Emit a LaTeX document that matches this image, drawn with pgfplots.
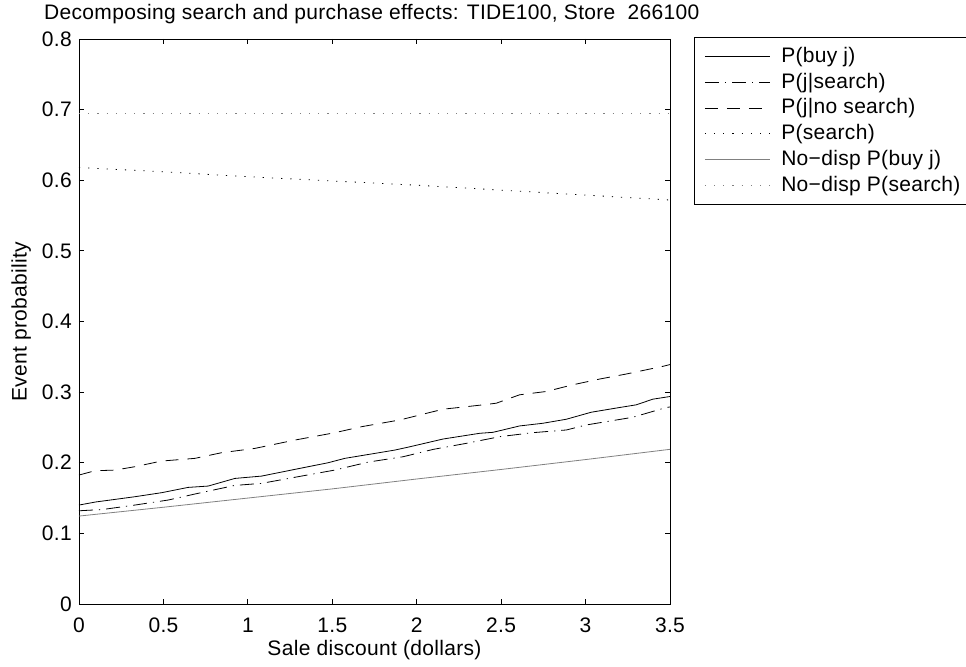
\documentclass[border=0pt]{standalone}
\usepackage{fontspec}
\setmainfont{Liberation Sans}[LetterSpace=1.5]
\usepackage{pgfplots}
\pgfplotsset{compat=1.18}
\definecolor{lgray}{rgb}{0.5,0.5,0.5}
\begin{document}
\fontsize{21bp}{24bp}\selectfont
\begin{tikzpicture}
\begin{axis}[
  scale only axis, width=591bp, height=565bp,
  xmin=0, xmax=3.5, ymin=0, ymax=0.8,
  xtick={0,0.5,...,3.5}, ytick={0,0.1,...,0.8},
  xticklabels={0,0.5,1,1.5,2,2.5,3,3.5},
  yticklabels={0,0.1,0.2,0.3,0.4,0.5,0.6,0.7,0.8},
  tick align=inside, xtick pos=both, ytick pos=both,
  major tick length=5bp,
  axis line style={line width=0.9bp},
  every tick/.style={black, line width=0.8bp},
  /pgf/number format/assume math mode=true,
  xticklabel style={anchor=base, inner sep=0pt, yshift=-28bp},
  yticklabel style={anchor=east, inner sep=0pt, xshift=-7bp},
  title={Decomposing search and purchase effects: TIDE100, Store\ \ 266100},
  every axis title/.style={at={(rel axis cs:-0.0592,1.0345)}, anchor=base west, inner sep=0pt},
  xlabel={Sale discount (dollars)},
  xlabel style={at={(rel axis cs:0.5,-0.0903)}, anchor=base, inner sep=0pt},
  ylabel={Event probability},
  ylabel style={at={(rel axis cs:-0.098,0.5)}, anchor=center, rotate=0, inner sep=0pt},
  legend cell align=left,
  legend style={at={(rel axis cs:1,1)}, anchor=north west, xshift=24bp, yshift=2bp,
    draw=black, line width=0.9bp, inner xsep=10bp, inner ysep=6bp, row sep=0bp,
    nodes={inner sep=0bp, minimum height=25.8bp, line width=0.8bp}},
  legend image code/.code={\draw[#1] (0bp,0bp) -- (65bp,0bp); \path (76bp,0bp);},
]
\addplot[black, line width=0.8bp] coordinates {
(0,0.1401) (0.1,0.1445) (0.213,0.1481) (0.331,0.1519) (0.489,0.1576) (0.646,0.1651)
(0.765,0.1670) (0.923,0.1778) (1.081,0.1811) (1.278,0.1906) (1.475,0.2000)
(1.574,0.2062) (1.751,0.2132) (1.869,0.2179) (1.948,0.2220) (2.156,0.2336)
(2.373,0.2417) (2.452,0.2431) (2.609,0.2521) (2.747,0.2559) (2.886,0.2616)
(3.033,0.2715) (3.201,0.2782) (3.300,0.2820) (3.398,0.2900) (3.5,0.2938)};
\addlegendentry{P(buy j)}
\addplot[black, line width=0.8bp, dash pattern=on 14bp off 6bp on 1.2bp off 6bp] coordinates {
(0,0.1320) (0.14,0.1338) (0.331,0.1401) (0.528,0.1472) (0.686,0.1557) (0.923,0.1679)
(1.081,0.1708) (1.317,0.1811) (1.514,0.1896) (1.712,0.2009) (1.919,0.2085)
(2.097,0.2189) (2.294,0.2275) (2.491,0.2369) (2.688,0.2426) (2.886,0.2464)
(3.004,0.2535) (3.280,0.2644) (3.477,0.2782) (3.5,0.2790)};
\addlegendentry{P(j|search)}
\addplot[black, line width=0.8bp, dash pattern=on 13bp off 9bp] coordinates {
(0,0.1826) (0.095,0.1887) (0.213,0.1896) (0.331,0.1944) (0.489,0.2024) (0.686,0.2062)
(0.844,0.2142) (1.041,0.2203) (1.278,0.2321) (1.514,0.2425) (1.672,0.2510)
(1.900,0.2606) (2.156,0.2758) (2.393,0.2820) (2.471,0.2843) (2.609,0.2962)
(2.767,0.3009) (2.925,0.3104) (3.083,0.3185) (3.240,0.3256) (3.457,0.3365) (3.5,0.3390)};
\addlegendentry{P(j|no search)}
\addplot[black, line width=0.8bp, dash pattern=on 1.2bp off 8bp] coordinates {
(0,0.618) (0.5,0.612) (1,0.605) (1.5,0.599) (2,0.593) (2.5,0.586) (3,0.579) (3.5,0.572)};
\addlegendentry{P(search)}
\addplot[lgray, line width=0.8bp] coordinates {
(0,0.1245) (0.5,0.137) (1,0.150) (1.5,0.163) (2,0.177) (2.5,0.1905) (3,0.2045) (3.5,0.219)};
\addlegendentry{No−disp P(buy j)}
\addplot[lgray, line width=0.8bp, dash pattern=on 1.2bp off 8bp] coordinates {
(0,0.694) (1,0.694) (2,0.694) (3,0.694) (3.5,0.694)};
\addlegendentry{No−disp P(search)}
\end{axis}
\pgfresetboundingbox
\path (-79bp,-63bp) rectangle (887bp,604bp);
\end{tikzpicture}
\end{document}
